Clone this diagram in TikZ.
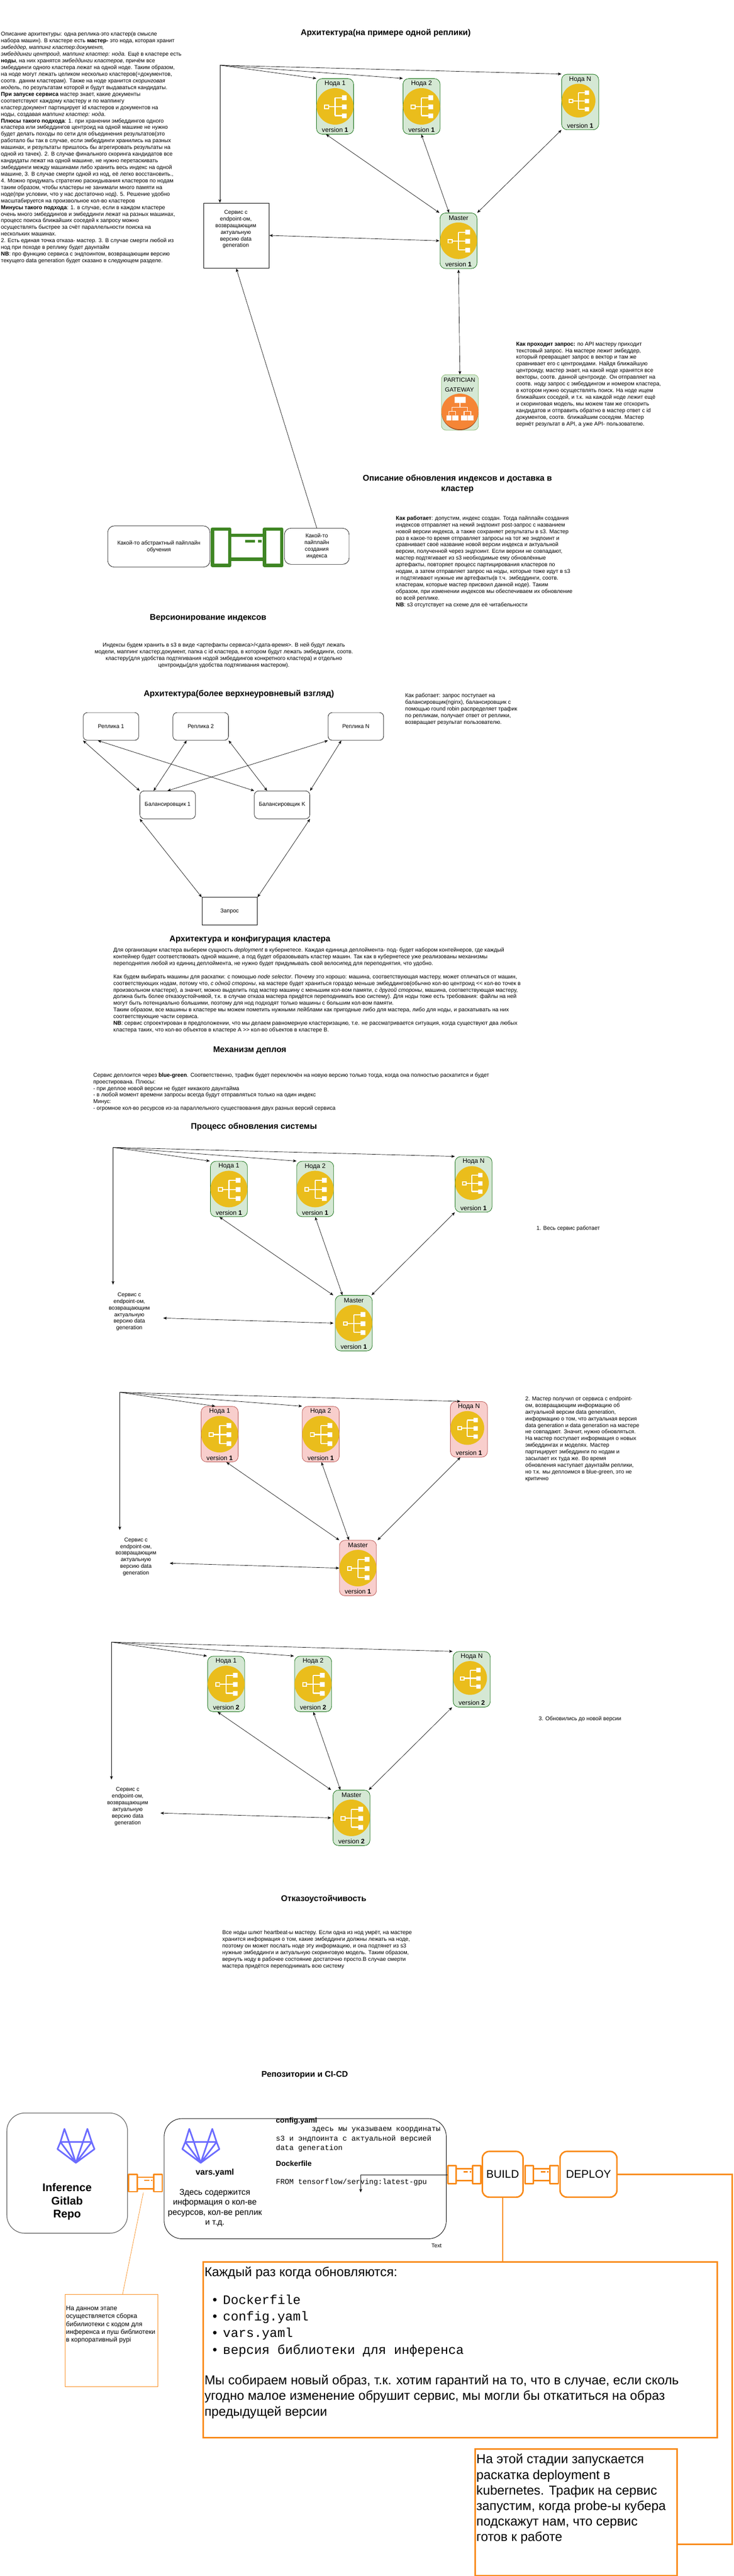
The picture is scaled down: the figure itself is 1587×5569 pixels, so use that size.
\documentclass[tikz,border=0pt]{standalone}
\usepackage{fontspec}
\setmainfont{Liberation Sans}
\newfontfamily\monof{Liberation Mono}
\usetikzlibrary{arrows.meta,calc}
\definecolor{nodeyellow}{HTML}{EABD1C}
\definecolor{gfill}{HTML}{D5E8D4}
\definecolor{gstroke}{HTML}{0E6B0E}
\definecolor{rfill}{HTML}{F8CECC}
\definecolor{rstroke}{HTML}{B85450}
\definecolor{gwfill}{HTML}{D5E8D4}
\definecolor{gwstroke}{HTML}{82B366}
\definecolor{gworange}{HTML}{F58536}
\definecolor{gwdark}{HTML}{9D5025}
\definecolor{awsgreen}{HTML}{3F8624}
\definecolor{ciorange}{HTML}{F98A18}
\definecolor{labblue}{HTML}{6B6BFF}
\definecolor{repoedge}{HTML}{555555}
\tikzset{
  every picture/.style={x=1pt,y=-1pt},
  >={Stealth[length=7.5pt,width=6pt,inset=2pt]},
  arr/.style={draw=black,line width=.75pt,->},
  dbl/.style={draw=black,line width=.75pt,<->},
  txt/.style={font=\fontsize{12}{14.4}\selectfont,align=left,inner sep=0pt,anchor=north west},
  ctxt/.style={font=\fontsize{12}{14.4}\selectfont,align=center,inner sep=0pt,anchor=north},
  ttl/.style={font=\fontsize{18}{21.6}\selectfont\bfseries,align=center,inner sep=0pt},
  ntext/.style={font=\fontsize{14}{16.8}\selectfont,inner sep=0pt},
  greennode/.style={draw=gstroke,fill=gfill,line width=.9pt,rounded corners=12pt,minimum width=80pt,minimum height=120pt,inner sep=0pt},
  rednode/.style={draw=rstroke,fill=rfill,line width=.9pt,rounded corners=12pt,minimum width=80pt,minimum height=120pt,inner sep=0pt},
  rbox/.style={draw=black,line width=.8pt,rounded corners=9pt,minimum width=120pt,minimum height=60pt,inner sep=0pt,font=\fontsize{12}{14.4}\selectfont,align=center},
  cibox/.style={draw=ciorange,line width=3.2pt,rounded corners=15pt,inner sep=0pt,font=\fontsize{24}{28.8}\selectfont},
  cisharp/.style={draw=ciorange,line width=3.2pt,inner sep=0pt},
  ciline/.style={draw=ciorange,line width=3.2pt},
}
\newcommand{\treeicon}{%
  \draw[white,line width=2.4pt] (-13.5,.8)--(15,.8) (0,-18.5)--(0,20) (0,-18.5)--(15,-18.5) (0,20)--(15,20);
  \fill[white] (14.8,-24) rectangle (25,-13.6) (14.8,-4) rectangle (25,6.3) (14.8,15.5) rectangle (25,25.5);
  \draw[white,line width=2pt] (-22.5,-2.8) rectangle (-14,4.6);
}
\newcommand{\mnode}[6]{%
  \begin{scope}[shift={(#2,#3)}]
    \node[#6] (#1) at (40,60) {};
    \fill[nodeyellow] (40,60) ellipse [x radius=40,y radius=39.5];
    \begin{scope}[shift={(40,60)}]\treeicon\end{scope}
    \node[ntext] (#1t) at (40,11) {#4};
    \node[ntext] (#1v) at (40,111) {version \textbf{#5}};
  \end{scope}}
\newcommand{\nnode}[6]{%
  \begin{scope}[shift={(#2,#3)}]
    \node[#6] (#1) at (40,60) {};
    \fill[nodeyellow] (36.5,57) ellipse [x radius=36.5,y radius=36.5];
    \begin{scope}[shift={(36.5,57)},scale=.91]\treeicon\end{scope}
    \node[ntext] (#1t) at (40,11) {#4};
    \node[ntext] (#1v) at (40,111) {version \textbf{#5}};
  \end{scope}}
\newcommand{\pipeicon}[7]{%
  \begin{scope}[shift={(#2,#3)},x=#4pt,y=-#5pt,line join=round]
    \node[inner sep=0pt,minimum width=#4pt,minimum height=#5pt] (#1) at (.5,.5) {};
    \draw[#6,line width=#7pt] (.25,.17)--(.75,.17) (.25,.83)--(.75,.83);
    \draw[#6,line width=#7pt] (0,0) rectangle (.25,1);
    \draw[#6,line width=#7pt] (.75,0) rectangle (1,1);
    \draw[#6,line width=.85*#7pt] (.47,.34)--(.61,.34) (.66,.34)--(.71,.34);
  \end{scope}}
\newcommand{\labicon}[1]{%
  \begin{scope}[shift={(#1,0)}]
    \draw[labblue,line width=3.4pt,line join=round,line cap=round]
      (130.7,4630.7)--(198.3,4630.7)
      (164,4675.7)--(124.3,4646)--(130.7,4630.7)--(139.3,4602.3)--(149.3,4630.7)--(164,4675.7)
      (164,4675.7)--(204.3,4646)--(198.3,4630.7)--(189,4602.3)--(179.3,4630.7)--(164,4675.7)
      (130.7,4630.7)--(164,4675.7)--(198.3,4630.7);
  \end{scope}}
\begin{document}
\begin{tikzpicture}
\fill[white] (0,0) rectangle (1587,5569);
\useasboundingbox (0,0) rectangle (1587,5569);

% ---------- description
\node[txt] (descr) at (2,69) {Описание архитектуры: одна реплика-это кластер(в смысле\\
набора машин). В кластере есть \textbf{мастер-} это нода, которая хранит\\
\textit{эмбеддер, маппинг кластер:документ,}\\
\textit{эмбеддинги центроид, маппинг кластер: нода.} Ещё в кластере есть\\
\textbf{ноды}, на них хранятся \textit{эмбеддинги кластеров}, причём все\\
эмбеддинги одного кластера лежат на одной ноде. Таким образом,\\
на ноде могут лежать целиком несколько кластеров(=документов,\\
соотв. даннм кластерам). Также на ноде хранится \textit{скоринговая}\\
\textit{модель}, по результатам которой и будут выдаваться кандидаты.\\
\textbf{При запуске сервиса} мастер знает, какие документы\\
соответствуют каждому кластеру и по маппингу\\
кластер:документ партицирует id кластеров и документов на\\
ноды, создавая \textit{маппинг кластер: нода}.\\
\textbf{Плюсы такого подхода}: 1. при хранении эмбеддингов одного\\
кластера или эмбеддингов центроид на одной машине не нужно\\
будет делать походы по сети для объединения результатов(это\\
работало бы так в случае, если эмбеддинги хранились на разных\\
машинах, и результаты пришлось бы агрегировать результаты на\\
одной из тачек). 2. В случае финального скоринга кандидатов все\\
кандидаты лежат на одной машине, не нужно перетаскивать\\
эмбеддинги между машинами либо хранить весь индекс на одной\\
машине, 3. В случае смерти одной из нод, её легко восстановить.,\\
4. Можно придумать стратегию раскидывания кластеров по нодам\\
таким образом, чтобы кластеры не занимали много памяти на\\
ноде(при условии, что у нас достаточно нод). 5. Решение удобно\\
масштабируется на произвольное кол-во кластеров\\
\textbf{Минусы такого подхода}: 1. в случае, если в каждом кластере\\
очень много эмбеддингов и эмбеддинги лежат на разных машинах,\\
процесс поиска ближайших соседей к запросу можно\\
осуществлять быстрее за счёт параллельности поиска на\\
нескольких машинах.\\
2. Есть единая точка отказа- мастер. 3. В случае смерти любой из\\
нод при походе в реплику будет даунтайм\\
\textbf{NB}: про функцию сервиса с эндпоинтом, возвращающим версию\\
текущего data generation будет сказано в следующем разделе.};

\node[ttl] (t1) at (834,71.6) {Архитектура(на примере одной реплики)};

% ---------- cluster 1
\coordinate (apexA) at (475.5,141);
\mnode{n1a}{684.5}{170}{Нода 1}{1}{greennode}
\mnode{n2a}{871.5}{170}{Нода 2}{1}{greennode}
\nnode{nNa}{1214.5}{160.5}{Нода N}{1}{greennode}
\mnode{ma}{951.5}{460.5}{Master}{1}{greennode}
\node[draw=black,line width=.9pt,minimum width=142pt,minimum height=141pt,inner sep=0pt] (svcA) at (511,509.5) {};
\node[ctxt] (svcAt) at (510,454) {Сервис с\\endpoint-ом,\\возвращающим\\актуальную\\версию data\\generation};
\draw[arr] (apexA) -- (n1a.north west);
\draw[arr] (apexA) -- (n2a.north west);
\draw[arr] (apexA) -- (nNa.north west);
\draw[arr] (apexA) -- (apexA |- svcA.north);
\draw[dbl] ([xshift=21pt]n1a.south west) -- ([xshift=-1pt]ma.north west);
\draw[dbl] ([xshift=40pt]n2a.south west) -- ([xshift=20pt]ma.north west);
\draw[dbl] (nNa.south west) -- (ma.north east);
\draw[dbl] ([yshift=.5pt]svcA.east) -- ([xshift=-1pt]ma.west);

% ---------- gateway
\node[draw=gwstroke,fill=gwfill,line width=.8pt,rounded corners=10pt,minimum width=80pt,minimum height=120pt,inner sep=0pt] (gw) at (994.5,870) {};
\fill[gwdark] (994.5,891) ellipse [x radius=40,y radius=39];
\fill[gworange] (994.5,889.5) ellipse [x radius=40,y radius=38.5];
\fill[white] (983,858) rectangle (1007,871) (965.5,898) rectangle (976,909) (978,898) rectangle (991,909) (997,898) rectangle (1010,909) (1011,898) rectangle (1024,909);
\draw[white,line width=1.4pt] (994.5,871)--(994.5,880.5) (977.5,889)--(977.5,880.5)--(1011,880.5)--(1011,889) (970.5,898)--(970.5,889)--(985,889)--(985,898) (1003.5,898)--(1003.5,889)--(1018,889)--(1018,898);
\node[font=\fontsize{13}{22}\selectfont,align=center,inner sep=0pt] (gwt) at (993.5,832) {PARTICIAN\\GATEWAY};
\draw[dbl] ([yshift=-2pt]ma.south) -- (gw.north);

\node[txt] (reqtxt) at (1116,739) {\textbf{Как проходит запрос:} по API мастеру приходит\\
текстовый запрос. На мастере лежит эмбеддер,\\
который превращает запрос в вектор и там же\\
сравнивает его с центроидами. Найдя ближайшую\\
центроиду, мастер знает, на какой ноде хранятся все\\
векторы, соотв. данной центроиде. Он отправляет на\\
соотв. ноду запрос с эмбеддингом и номером кластера,\\
в котором нужно осуществлять поиск. На ноде ищем\\
ближайших соседей, и т.к. на каждой ноде лежит ещё\\
и скоринговая модель, мы можем там же отскорить\\
кандидатов и отправить обратно в мастер ответ с id\\
документов, соотв. ближайшим соседям. Мастер\\
вернёт результат в API, а уже API- пользователю.};

\node[ttl] (t2) at (989,1046) {Описание обновления индексов и доставка в\\кластер};

% ---------- pipeline
\node[draw=black,line width=.8pt,rounded corners=14pt,minimum width=221pt,minimum height=89pt,inner sep=0pt,font=\fontsize{12}{14.4}\selectfont,align=center] (train) at (343.5,1181.5) {Какой-то абстрактный пайплайн\\обучения};
\node[draw=black,line width=.8pt,rounded corners=14pt,minimum width=140pt,minimum height=78pt,inner sep=0pt,font=\fontsize{12}{14.4}\selectfont,align=center] (idx) at (685,1181) {Какой-то\\пайплайн\\создания\\индекса};
\pipeicon{pipeg}{459.5}{1143.5}{150}{79}{awsgreen}{7}
\draw[arr] (idx.north) -- (svcA.south);

\node[txt] (howtxt) at (856,1115) {\textbf{Как работает}: допустим, индекс создан. Тогда пайплайн создания\\
индексов отправляет на некий эндпоинт post-запрос с названием\\
новой версии индекса, а также сохраняет результаты в s3. Мастер\\
раз в какое-то время отправляет запросы на тот же эндпоинт и\\
сравнивает своё название новой версии индекса и актуальной\\
версии, полученной через эндпоинт. Если версии не совпадают,\\
мастер подтягивает из s3 необходимые ему обновлённые\\
артефакты, повторяет процесс партицирования кластеров по\\
нодам, а затем отправляет запрос на ноды, которые тоже идут в s3\\
и подтягивают нужные им артефакты(в т.ч. эмбеддинги, соотв.\\
кластерам, которые мастер присвоил данной ноде). Таким\\
образом, при изменении индексов мы обеспечиваем их обновление\\
во всей реплике.\\
\textbf{NB}: s3 отсутствует на схеме для её читабельности};

\node[ttl] (t3) at (450,1336) {Версионирование индексов};
\node[ctxt] (vertxt) at (484,1389) {Индексы будем хранить в s3 в виде <артефакты сервиса>/<дата-время>. В ней будут лежать\\
модели, маппинг кластер:документ, папка с id кластера, в котором будут лежать эмбеддинги, соотв.\\
кластеру(для удобства подтягивания нодой эмбеддингов конкретного кластера) и отдельно\\
центроиды(для удобства подтягивания мастером).};

% ---------- high level
\node[ttl] (t4) at (516.5,1501) {Архитектура(более верхнеуровневый взгляд)};
\node[txt] (baltxt) at (876,1499) {Как работает: запрос поступает на\\
балансировщик(nginx), балансировщик с\\
помощью round robin распределяет трафик\\
по репликам, получает ответ от реплики,\\
возвращает результат пользователю.};
\node[rbox] (r1) at (240,1570.5) {Реплика 1};
\node[rbox] (r2) at (434,1570.5) {Реплика 2};
\node[rbox] (rN) at (769.5,1570.5) {Реплика N};
\node[rbox] (b1) at (362.5,1740) {Балансировщик 1};
\node[rbox] (bK) at (610,1740) {Балансировщик K};
\node[draw=black,line width=.8pt,minimum width=120pt,minimum height=60pt,inner sep=0pt,font=\fontsize{12}{14.4}\selectfont] (rq) at (496.5,1970) {Запрос};
\draw[dbl] (r1.south west) -- (b1.north west);
\draw[dbl] ([xshift=32pt]r1.south west) -- (bK.north west);
\draw[dbl] ([xshift=30pt]r2.south west) -- ([xshift=30pt]b1.north west);
\draw[dbl] (r2.south east) -- ([xshift=28pt]bK.north west);
\draw[dbl] (rN.south west) -- ([xshift=60pt]b1.north west);
\draw[dbl] ([xshift=29pt]rN.south west) -- (bK.north east);
\draw[dbl] (b1.south west) -- (rq.north west);
\draw[dbl] (bK.south east) -- (rq.north east);

% ---------- config
\node[ttl] (t5) at (540.5,2031) {Архитектура и конфигурация кластера};
\node[txt] (cfgtxt) at (245,2048.6) {Для организации кластера выберем сущность \textit{deployment} в кубернетесе. Каждая единица деплоймента- под- будет набором контейнеров, где каждый\\
контейнер будет соответствовать одной машине, а под будет образовывать кластер машин. Так как в кубернетесе уже реализованы механизмы\\
переподнятия любой из единиц деплоймента, не нужно будет придумывать свой велосипед для переподнятия, что удобно.\\
\mbox{}\\
Как будем выбирать машины для раскатки: с помощью \textit{node selector}. Почему это хорошо: машина, соответствующая мастеру, может отличаться от машин,\\
соответствующих нодам, потому что, \textit{с одной стороны}, на мастере будет храниться гораздо меньше эмбеддингов(обычно кол-во центроид <{}< кол-во точек в\\
произвольном кластере), а значит, можно выделить под мастер машину с меньшим кол-вом памяти, \textit{с другой стороны}, машина, соответствующая мастеру,\\
должна быть более отказоустойчивой, т.к. в случае отказа мастера придётся переподнимать всю систему). Для ноды тоже есть требования: файлы на ней\\
могут быть потенциально большими, поэтому для нод подходят только машины с большим кол-вом памяти.\\
Таким образом, все машины в кластере мы можем пометить нужными лейблами как пригодные либо для мастера, либо для ноды, и раскатывать на них\\
соответствующие части сервиса.\\
\textbf{NB}: сервис спроектирован в предположении, что мы делаем равномерную кластеризацию, т.е. не рассматривается ситуация, когда существуют два любых\\
кластера таких, что кол-во объектов в кластере A >{}> кол-во объектов в кластере B.};

\node[ttl] (t6) at (540,2271) {Механизм деплоя};
\node[txt] (deptxt) at (201.5,2319) {Сервис деплоится через \textbf{blue-green}. Соответственно, трафик будет переключён на новую версию только тогда, когда она полностью раскатится и будет\\
проестирована. Плюсы:\\
- при деплое новой версии не будет никакого даунтайма\\
- в любой момент времени запросы всегда будут отправляться только на один индекс\\
Минус:\\
- огромное кол-во ресурсов из-за параллельного существования двух разных версий сервиса};

\node[ttl] (t7) at (549,2436) {Процесс обновления системы};

% ---------- cluster A (step 1)
\coordinate (apexB) at (244.4,2480.6);
\coordinate (endB) at (244.4,2777);
\coordinate (svcB) at (353,2849.5);
\mnode{n1b}{455}{2510.5}{Нода 1}{1}{greennode}
\mnode{n2b}{641.5}{2510.5}{Нода 2}{1}{greennode}
\nnode{nNb}{984}{2500.5}{Нода N}{1}{greennode}
\mnode{mb}{725}{2800.5}{Master}{1}{greennode}
\draw[arr] (apexB) -- ([xshift=-1pt]n1b.north west);
\draw[arr] (apexB) -- (n2b.north west);
\draw[arr] (apexB) -- (nNb.north west);
\draw[arr] (apexB) -- (endB);
\node[ctxt] (svcBt) at (279.6,2794) {Сервис с\\endpoint-ом,\\возвращающим\\актуальную\\версию data\\generation};
\draw[dbl] (svcB) -- ([xshift=-3.5pt]mb.west);
\draw[dbl] ([xshift=20pt]n1b.south west) -- ([xshift=-4pt]mb.north west);
\draw[dbl] ([xshift=40.5pt]n2b.south west) -- ([xshift=16pt]mb.north west);
\draw[dbl] (nNb.south west) -- ([xshift=-2pt]mb.north east);
\node[txt] (step1) at (1160,2650) {1. Весь сервис работает};

% ---------- cluster B (step 2)
\coordinate (apexC) at (259,3010);
\coordinate (endC) at (259,3307.6);
\coordinate (svcC) at (367,3379.5);
\mnode{n1c}{435}{3040.5}{Нода 1}{1}{rednode}
\mnode{n2c}{653.5}{3040.5}{Нода 2}{1}{rednode}
\nnode{nNc}{974}{3030}{Нода N}{1}{rednode}
\mnode{mc}{734}{3330}{Master}{1}{rednode}
\draw[arr] (apexC) -- ([xshift=31pt]n1c.north west);
\draw[arr] (apexC) -- (n2c.north west);
\draw[arr] (apexC) -- ([xshift=22pt]nNc.north west);
\draw[arr] (apexC) -- (endC);
\node[ctxt] (svcCt) at (294,3324) {Сервис с\\endpoint-ом,\\возвращающим\\актуальную\\версию data\\generation};
\draw[dbl] (svcC) -- (mc.west);
\draw[dbl] ([xshift=55pt]n1c.south west) -- (mc.north west);
\draw[dbl] ([xshift=42pt]n2c.south west) -- ([xshift=21pt]mc.north west);
\draw[dbl] ([xshift=22pt]nNc.south west) -- ([xshift=2pt]mc.north east);
\node[txt] (step2) at (1135.7,3018.7) {2. Мастер получил от сервиса с endpoint-\\
ом, возвращающим информацию об\\
актуальной версии data generation,\\
информацию о том, что актуальная версия\\
data generation и data generation на мастере\\
не совпадают. Значит, нужно обновляться.\\
На мастер поступает информация о новых\\
эмбеддингах и моделях. Мастер\\
партицирует эмбеддинги по нодам и\\
засылает их туда же. Во время\\
обновления наступает даунтайм реплики,\\
но т.к. мы деплоимся в blue-green, это не\\
критично};

% ---------- cluster C (step 3)
\coordinate (apexD) at (241,3550);
\coordinate (endD) at (241,3847);
\coordinate (svcD) at (347,3919.6);
\mnode{n1d}{449}{3580.5}{Нода 1}{2}{greennode}
\mnode{n2d}{637}{3580.5}{Нода 2}{2}{greennode}
\nnode{nNd}{980}{3570.5}{Нода N}{2}{greennode}
\mnode{md}{720}{3870}{Master}{2}{greennode}
\draw[arr] (apexD) -- ([xshift=-1pt]n1d.north west);
\draw[arr] (apexD) -- ([xshift=-1pt]n2d.north west);
\draw[arr] (apexD) -- ([xshift=-1pt]nNd.north west);
\draw[arr] (apexD) -- (endD);
\node[ctxt] (svcDt) at (276,3864) {Сервис с\\endpoint-ом,\\возвращающим\\актуальную\\версию data\\generation};
\draw[dbl] (svcD) -- ([xshift=-3.5pt]md.west);
\draw[dbl] ([xshift=22pt]n1d.south west) -- ([xshift=-3.5pt]md.north west);
\draw[dbl] ([xshift=41pt]n2d.south west) -- ([xshift=16.5pt]md.north west);
\draw[dbl] ([xshift=-2pt]nNd.south west) -- ([xshift=-3pt]md.north east);
\node[txt] (step3) at (1164.7,3710) {3. Обновились до новой версии};

% ---------- fault tolerance
\node[ttl] (t8) at (700,4106) {Отказоустойчивость};
\node[txt] (fttxt) at (480.5,4173) {Все ноды шлют heartbeat-ы мастеру. Если одна из нод умрёт, на мастере\\
хранится информация о том, какие эмбеддинги должны лежать на ноде,\\
поэтому он может послать ноде эту информацию, и она подтянет из s3\\
нужные эмбеддинги и актуальную скоринговую модель. Таким образом,\\
вернуть ноду в рабочее состояние достаточно просто.В случае смерти\\
мастера придётся переподнимать всю систему};

\node[ttl] (t9) at (659,4486) {Репозитории и CI-CD};

% ---------- CI/CD
\node[draw=repoedge,line width=1.2pt,rounded corners=39pt,minimum width=261pt,minimum height=260pt,inner sep=0pt] (repo) at (145.3,4698) {};
\labicon{0}
\node[font=\fontsize{24}{28.4}\selectfont\bfseries,align=center,inner sep=0pt] (repot) at (145,4760) {Inference\\Gitlab\\Repo};
\node[draw=black,line width=1pt,rounded corners=39pt,minimum width=610pt,minimum height=260pt,inner sep=0pt] (cfg) at (660,4710) {};
\labicon{270}
\node[font=\fontsize{18}{21.6}\selectfont\bfseries,inner sep=0pt] (varst) at (464.6,4697.5) {vars.yaml};
\node[font=\fontsize{18}{21.8}\selectfont,align=center,inner sep=0pt] (varsd) at (464.6,4773) {Здесь содержится\\информация о кол-ве\\ресурсов, кол-ве реплик\\и т.д.};
\node[font=\fontsize{16}{19.2}\selectfont\bfseries,inner sep=0pt,anchor=west] (cfgt) at (596.5,4585) {config.yaml};
\node[font=\fontsize{16}{19.2}\selectfont\monof,inner sep=0pt,anchor=west] (cfgd) at (673.7,4605) {здесь мы указываем координаты};
\node[font=\fontsize{16}{19.9}\selectfont\monof,align=left,inner sep=0pt,anchor=north west] (cfge) at (596.5,4617) {s3 и эндпоинта с актуальной версией\\data generation};
\node[font=\fontsize{16}{19.2}\selectfont\bfseries,inner sep=0pt,anchor=west] (dockt) at (596.5,4677.6) {Dockerfile};
\node[font=\fontsize{16}{19.2}\selectfont\monof,inner sep=0pt,anchor=west] (dockd) at (596.5,4717.4) {FROM tensorflow/serving:latest-gpu};
\node[font=\fontsize{12}{14.4}\selectfont,inner sep=0pt] (textt) at (944,4855) {Text};

\node[cibox,minimum width=88pt,minimum height=99pt] (build) at (1087,4700.5) {BUILD};
\node[cibox,minimum width=123pt,minimum height=99pt] (deploy) at (1272.5,4700.5) {DEPLOY};

\pipeicon{pipea}{278.2}{4700.5}{72.7}{37.5}{ciorange}{3.2}
\pipeicon{pipeb}{968.5}{4682}{71}{38.5}{ciorange}{3.2}
\pipeicon{pipec}{1135.3}{4682}{72}{38.5}{ciorange}{3.2}

\coordinate (codeend) at (780,4739.6);
\draw[arr] (pipeb.west) -| (codeend);

\node[draw=ciorange,line width=.8pt,minimum width=200pt,minimum height=200pt,inner sep=0pt] (libnote) at (241,5060) {};
\node[font=\fontsize{14}{17}\selectfont,align=left,inner sep=0pt,anchor=north west] (libt) at (142.5,4985) {На данном этапе\\осуществляется сборка\\бибилиотеки с кодом для\\инференса и пуш библиотеки\\в корпоративный pypi};
\coordinate (pipeafoot) at (310,4740);
\draw[draw=ciorange,line width=.8pt] (pipeafoot) -- (265,4960);

\node[cisharp,minimum width=1111pt,minimum height=380pt] (big) at (995,5080) {};
\draw[ciline] (build.south) -- (build.south |- big.north);
\node[font=\fontsize{28}{33.6}\selectfont,inner sep=0pt,anchor=west] (bigt) at (442,4914) {Каждый раз когда обновляются:};
\node[font=\fontsize{28}{35.8}\selectfont\monof,align=left,inner sep=0pt,anchor=north west] (bigl) at (456,4961) {\makebox[26pt][l]{•}Dockerfile\\\makebox[26pt][l]{•}config.yaml\\\makebox[26pt][l]{•}vars.yaml\\\makebox[26pt][l]{•}версия библиотеки для инференса};
\node[font=\fontsize{28}{33.8}\selectfont,align=left,inner sep=0pt,anchor=north west] (bigp) at (442,5134) {Мы собираем новый образ, т.к. хотим гарантий на то, что в случае, если сколь\\угодно малое изменение обрушит сервис, мы могли бы откатиться на образ\\предыдущей версии};

\node[cisharp,minimum width=437pt,minimum height=274pt] (dnote) at (1245.5,5431) {};
\node[font=\fontsize{28}{33.6}\selectfont,align=left,inner sep=0pt,anchor=north west] (dnotet) at (1030,5305) {На этой стадии запускается\\раскатка deployment в\\kubernetes. Трафик на сервис\\запустим, когда probe-ы кубера\\подскажут нам, что сервис\\готов к работе};
\coordinate (dcorner) at (1583.6,5500);
\draw[ciline] (deploy.east) -| (dcorner) -- (dcorner -| dnote.east);
\end{tikzpicture}
\end{document}
